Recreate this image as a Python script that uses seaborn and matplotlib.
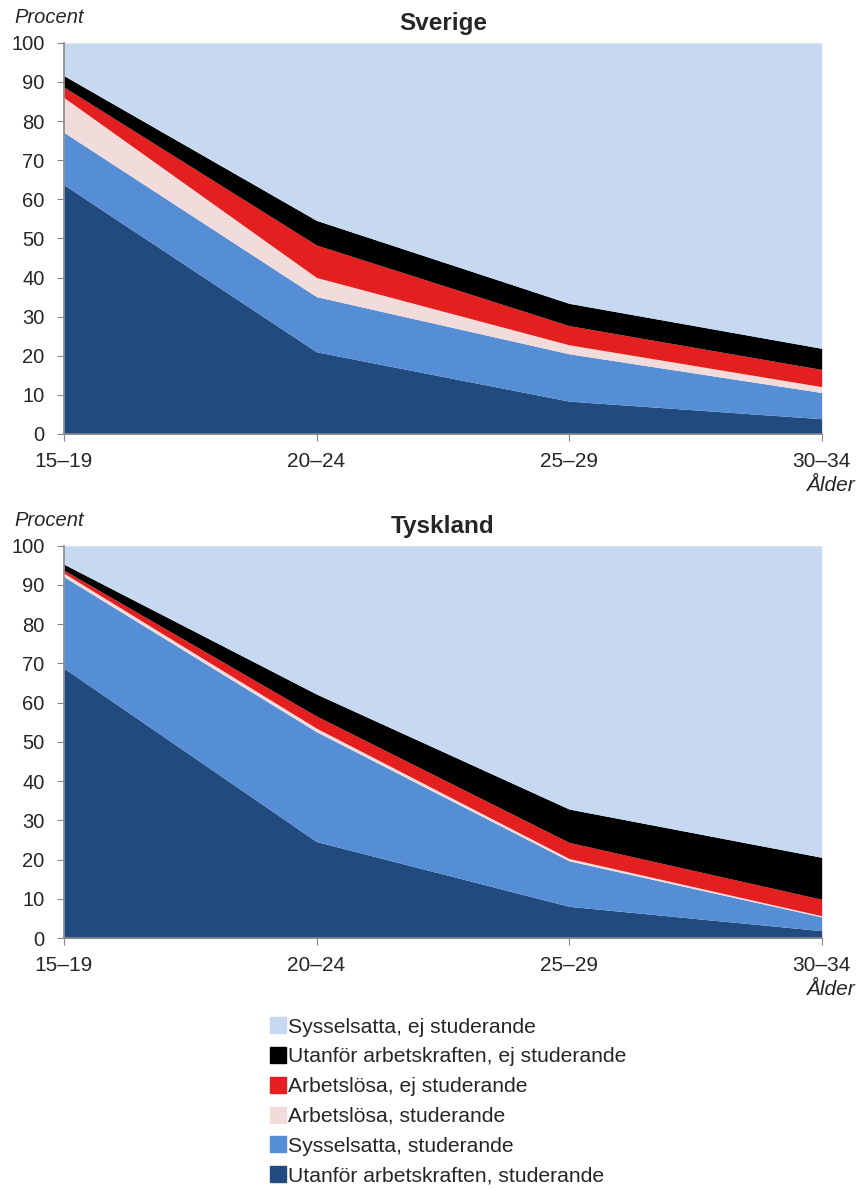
import numpy as np
import matplotlib.pyplot as plt
import seaborn as sns
from matplotlib.lines import Line2D

# Åldersgrupper och serier (procent)
ages = ["15–19", "20–24", "25–29", "30–34"]
series = [
    "Utanför arbetskraften, studerande",
    "Sysselsatta, studerande",
    "Arbetslösa, studerande",
    "Arbetslösa, ej studerande",
    "Utanför arbetskraften, ej studerande",
    "Sysselsatta, ej studerande",
]
colors = ["#214A7E", "#558ED5", "#F2DCDB", "#E41F1F", "#000000", "#C6D9F1"]

sverige = [
    [63.7, 21.0, 8.4, 3.9],
    [13.4, 14.1, 12.1, 6.7],
    [8.9, 4.9, 2.3, 1.5],
    [2.7, 8.3, 4.9, 4.4],
    [2.9, 6.3, 5.7, 5.4],
    [8.4, 45.4, 66.6, 78.1],
]
tyskland = [
    [68.8, 24.6, 8.1, 1.9],
    [23.3, 28.0, 11.6, 3.5],
    [0.9, 0.9, 0.6, 0.3],
    [0.8, 3.1, 4.1, 4.2],
    [1.5, 5.6, 8.5, 10.7],
    [4.7, 37.8, 67.1, 79.4],
]

sns.set_style("white")
plt.rcParams["font.family"] = ["Liberation Sans", "DejaVu Sans"]

fig = plt.figure(figsize=(8.64, 11.89), dpi=100)
ax1 = fig.add_axes([0.074, 0.635, 0.877, 0.329])
ax2 = fig.add_axes([0.074, 0.211, 0.877, 0.330])

x = np.arange(len(ages))
for ax, data, title in [(ax1, sverige, "Sverige"), (ax2, tyskland, "Tyskland")]:
    ax.stackplot(x, np.array(data), colors=colors, linewidth=0)
    ax.set_xlim(0, 3)
    ax.set_ylim(0, 100)
    ax.set_xticks(x)
    ax.set_xticklabels(ages, fontsize=15)
    ax.set_yticks(range(0, 101, 10))
    ax.tick_params(axis="y", labelsize=14.5, left=True, length=5, color="#888888", pad=9)
    ax.tick_params(axis="x", bottom=True, length=5, color="#888888", pad=8)
    sns.despine(ax=ax)
    for side in ["left", "bottom"]:
        ax.spines[side].set_color("#888888")
        ax.spines[side].set_linewidth(1.2)
    ax.set_title(title, fontsize=17.5, fontweight="bold", pad=9)
    ax.text(-0.065, 1.04, "Procent", transform=ax.transAxes, fontsize=14.5,
            style="italic", ha="left", va="bottom")
    ax.text(1.011, -0.108, "Ålder", transform=ax.transAxes, fontsize=15,
            style="italic", ha="center", va="top")

handles = [Line2D([0], [0], marker="s", linestyle="", markersize=12,
                  markerfacecolor=c, markeredgecolor=c) for c in colors[::-1]]
fig.legend(handles, series[::-1], loc="upper left", bbox_to_anchor=(0.301, 0.153),
           frameon=False, fontsize=15.2, handlelength=0.7, handletextpad=0.1,
           labelspacing=0.51, borderpad=0)

plt.savefig("out.png", dpi=100)
plt.close()
